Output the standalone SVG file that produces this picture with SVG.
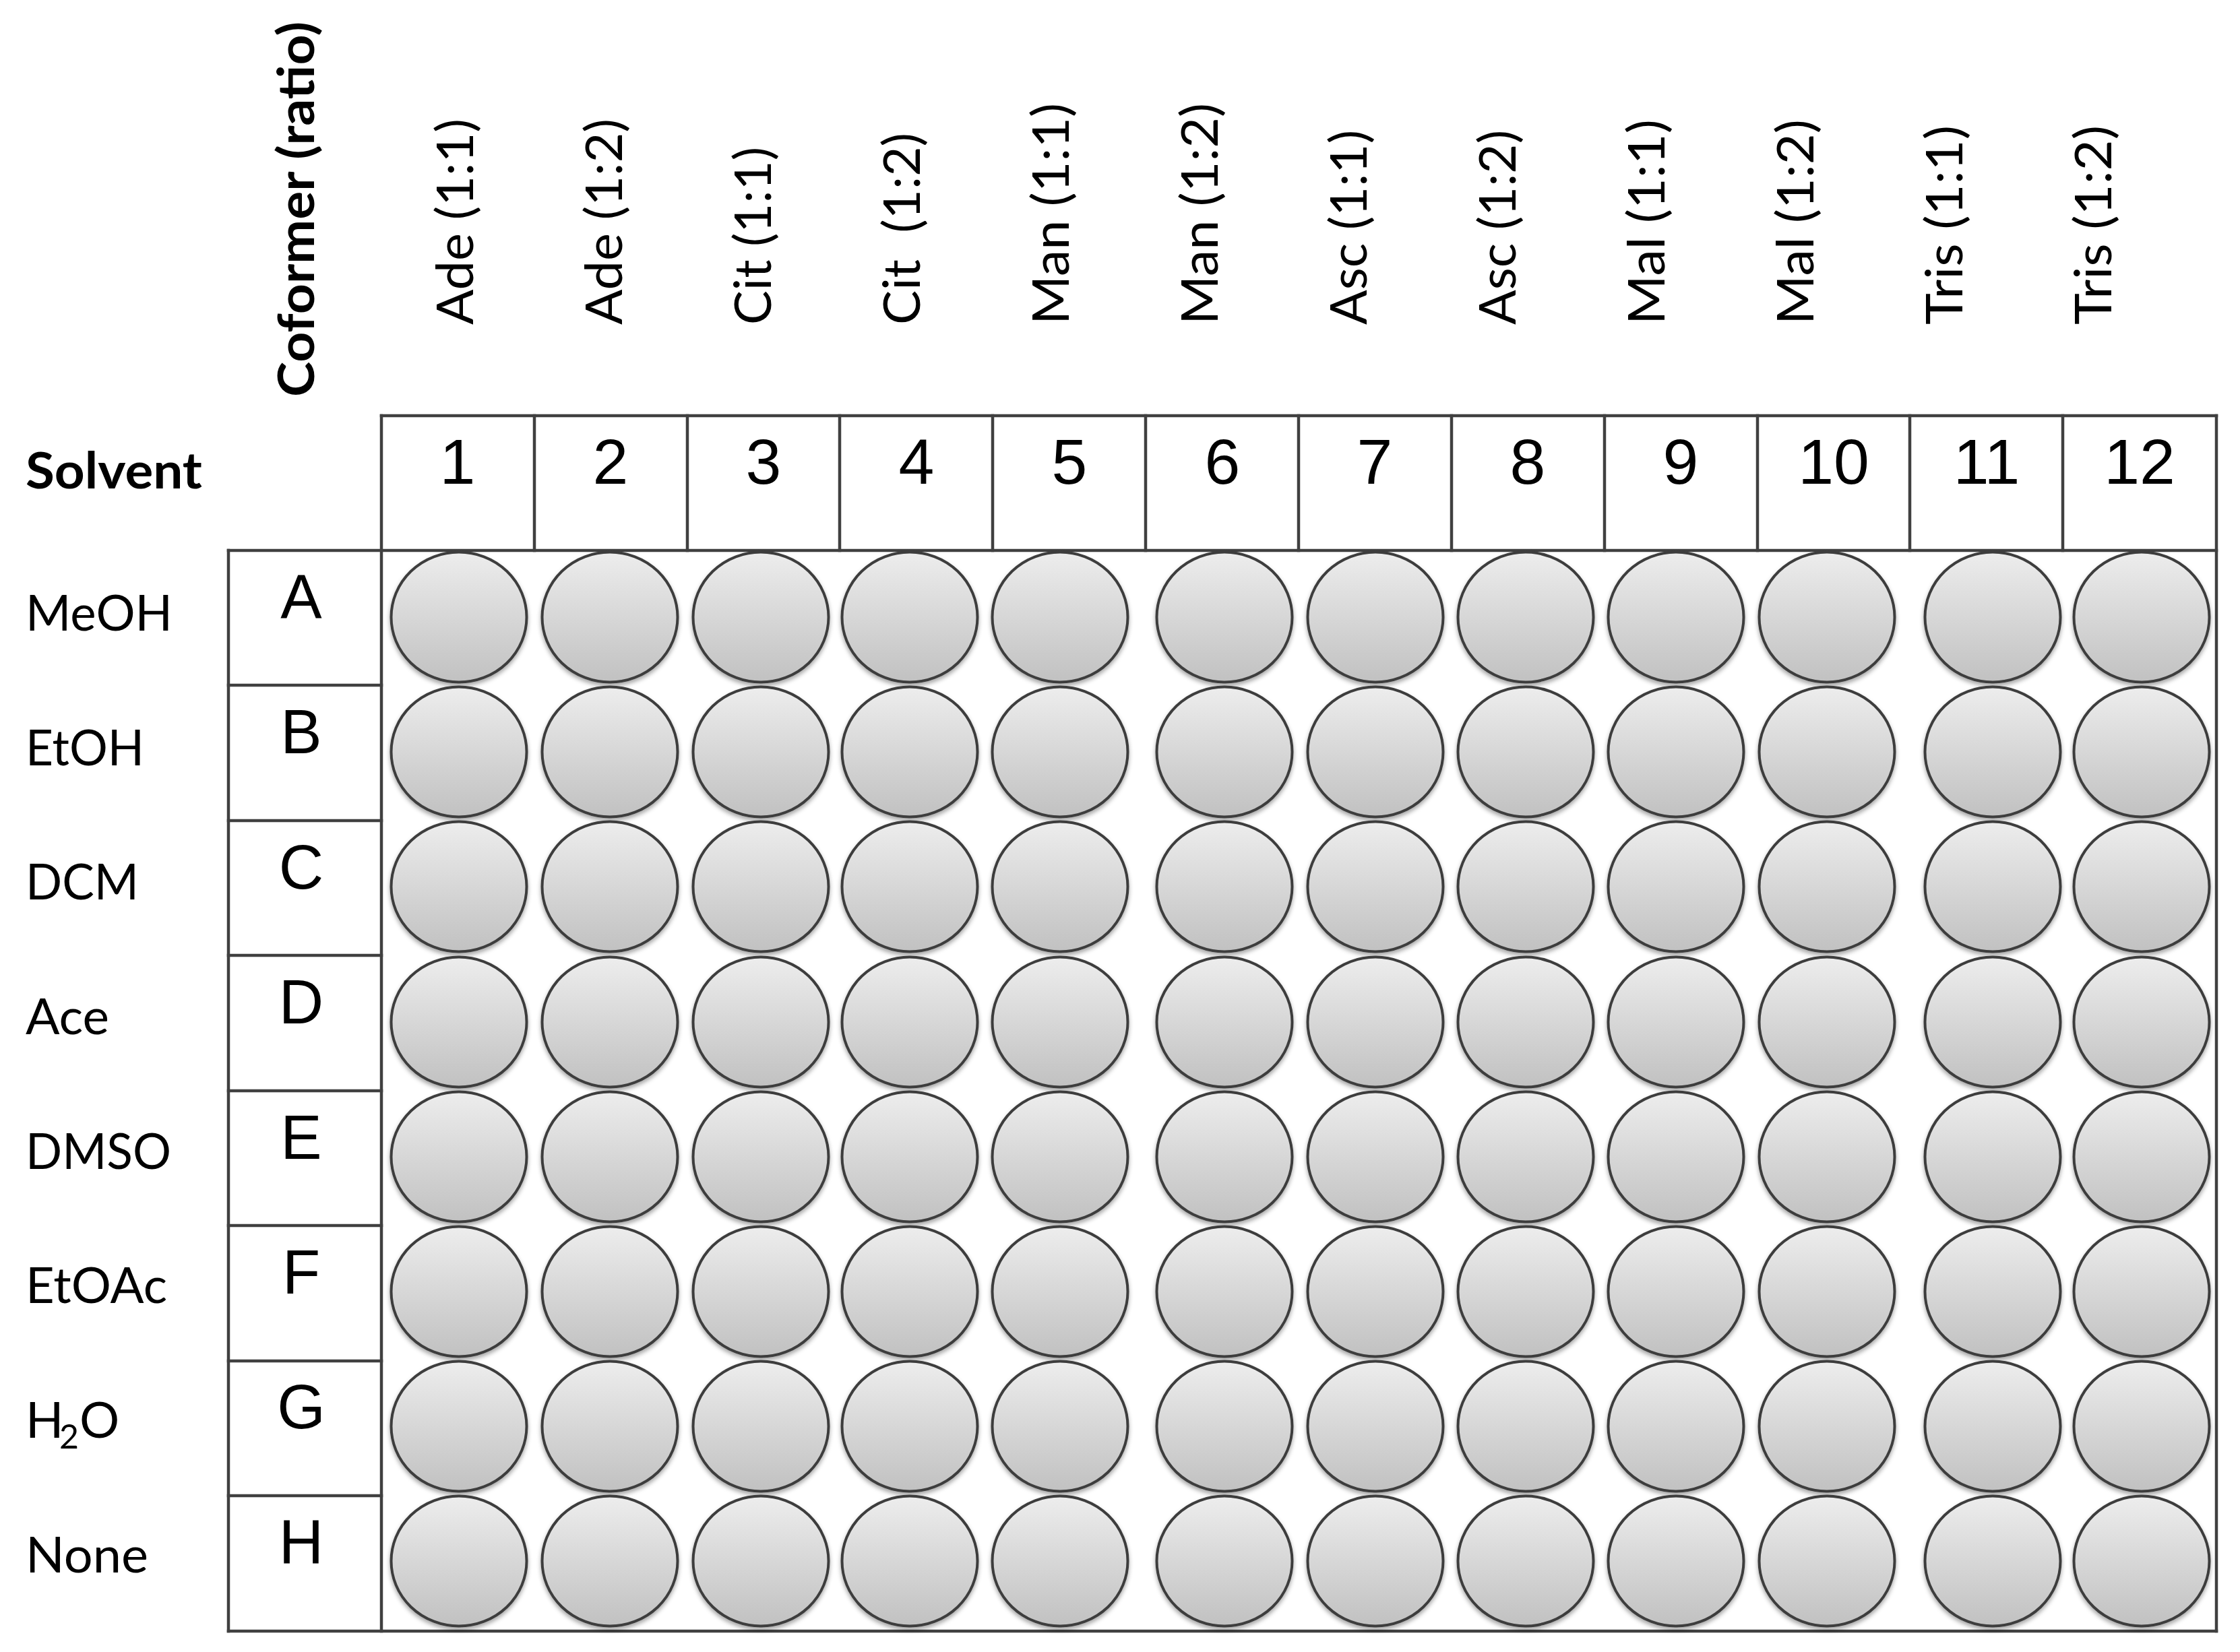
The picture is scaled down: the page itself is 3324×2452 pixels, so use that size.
<svg xmlns="http://www.w3.org/2000/svg" xmlns:xlink="http://www.w3.org/1999/xlink" width="3324" height="2452" viewBox="0 0 3324 2452">
<style>
.t{font-family:Lato,"Open Sans","Liberation Sans",sans-serif;fill:#000}
.b{font-weight:700}
.col{font-size:75px}
.row{font-size:74px}
.num{font-family:"Liberation Sans",Arial,sans-serif;font-size:95px;fill:#000;text-anchor:middle}
.let{font-family:"Liberation Sans",Arial,sans-serif;font-size:92px;fill:#000;text-anchor:middle}
.grid line{stroke:#404040;stroke-width:4.5;stroke-linecap:square}
</style>
<defs>
<linearGradient id="wellFill" x1="0" y1="0" x2="0" y2="1">
<stop offset="0" stop-color="#ededed"/>
<stop offset="1" stop-color="#c1c1c1"/>
</linearGradient>
<filter id="shadow" x="-20%" y="-20%" width="140%" height="150%">
<feDropShadow dx="0" dy="4" stdDeviation="3" flood-color="#000" flood-opacity="0.35"/>
</filter>
<ellipse id="well" cx="0" cy="0" rx="100.5" ry="96.5" fill="url(#wellFill)" stroke="#3d3d3d" stroke-width="4" filter="url(#shadow)"/>
</defs>
<rect x="0" y="0" width="3324" height="2452" fill="#fff"/>

<g id="axis-titles">
<text id="title-coformer" class="t b" font-size="75" transform="translate(466,589) rotate(-90)" textLength="557" lengthAdjust="spacingAndGlyphs">Coformer (ratio)</text>
<text id="title-solvent" class="t b" font-size="75" x="38" y="725" textLength="262" lengthAdjust="spacingAndGlyphs">Solvent</text>
</g>

<g id="coformer-labels" class="t col">
<text transform="translate(702,482) rotate(-90)" textLength="306" lengthAdjust="spacingAndGlyphs">Ade (1:1)</text>
<text transform="translate(923,482) rotate(-90)" textLength="306" lengthAdjust="spacingAndGlyphs">Ade (1:2)</text>
<text transform="translate(1144,482) rotate(-90)" textLength="264" lengthAdjust="spacingAndGlyphs">Cit (1:1)</text>
<text transform="translate(1365,482) rotate(-90)" textLength="285" lengthAdjust="spacingAndGlyphs" xml:space="preserve">Cit  (1:2)</text>
<text transform="translate(1586,482) rotate(-90)" textLength="329" lengthAdjust="spacingAndGlyphs">Man (1:1)</text>
<text transform="translate(1807,482) rotate(-90)" textLength="329" lengthAdjust="spacingAndGlyphs">Man (1:2)</text>
<text transform="translate(2028,482) rotate(-90)" textLength="289" lengthAdjust="spacingAndGlyphs">Asc (1:1)</text>
<text transform="translate(2249,482) rotate(-90)" textLength="289" lengthAdjust="spacingAndGlyphs">Asc (1:2)</text>
<text transform="translate(2470,482) rotate(-90)" textLength="305" lengthAdjust="spacingAndGlyphs">Mal (1:1)</text>
<text transform="translate(2691,482) rotate(-90)" textLength="305" lengthAdjust="spacingAndGlyphs">Mal (1:2)</text>
<text transform="translate(2912,482) rotate(-90)" textLength="296" lengthAdjust="spacingAndGlyphs">Tris (1:1)</text>
<text transform="translate(3133,482) rotate(-90)" textLength="296" lengthAdjust="spacingAndGlyphs">Tris (1:2)</text>
</g>

<g id="solvent-labels" class="t row">
<text x="38" y="936" textLength="218" lengthAdjust="spacingAndGlyphs">MeOH</text>
<text x="38" y="1136" textLength="176" lengthAdjust="spacingAndGlyphs">EtOH</text>
<text x="38" y="1335" textLength="168" lengthAdjust="spacingAndGlyphs">DCM</text>
<text x="38" y="1535" textLength="124" lengthAdjust="spacingAndGlyphs">Ace</text>
<text x="38" y="1735" textLength="216" lengthAdjust="spacingAndGlyphs">DMSO</text>
<text x="38" y="1934" textLength="210" lengthAdjust="spacingAndGlyphs">EtOAc</text>
<text x="38" y="2134"><tspan x="38">H</tspan><tspan x="88" dy="16" font-size="50">2</tspan><tspan x="118" dy="-16">O</tspan></text>
<text x="38" y="2334" textLength="182" lengthAdjust="spacingAndGlyphs">None</text>
</g>

<g id="grid" class="grid">
<line x1="566" y1="617" x2="3289" y2="617"/>
<line x1="339" y1="817" x2="3289" y2="817"/>
<line x1="339" y1="2421" x2="3289" y2="2421"/>
<line x1="566" y1="617" x2="566" y2="2421"/>
<line x1="3289" y1="617" x2="3289" y2="2421"/>
<line x1="339" y1="817" x2="339" y2="2421"/>
<line x1="339" y1="1017" x2="566" y2="1017"/>
<line x1="339" y1="1218" x2="566" y2="1218"/>
<line x1="339" y1="1418" x2="566" y2="1418"/>
<line x1="339" y1="1619" x2="566" y2="1619"/>
<line x1="339" y1="1819" x2="566" y2="1819"/>
<line x1="339" y1="2020" x2="566" y2="2020"/>
<line x1="339" y1="2220" x2="566" y2="2220"/>
<line x1="793" y1="617" x2="793" y2="817"/>
<line x1="1020" y1="617" x2="1020" y2="817"/>
<line x1="1246" y1="617" x2="1246" y2="817"/>
<line x1="1473" y1="617" x2="1473" y2="817"/>
<line x1="1700" y1="617" x2="1700" y2="817"/>
<line x1="1927" y1="617" x2="1927" y2="817"/>
<line x1="2154" y1="617" x2="2154" y2="817"/>
<line x1="2381" y1="617" x2="2381" y2="817"/>
<line x1="2608" y1="617" x2="2608" y2="817"/>
<line x1="2834" y1="617" x2="2834" y2="817"/>
<line x1="3061" y1="617" x2="3061" y2="817"/>
</g>

<g id="column-numbers">
<text class="num" x="679" y="718">1</text>
<text class="num" x="906" y="718">2</text>
<text class="num" x="1133" y="718">3</text>
<text class="num" x="1360" y="718">4</text>
<text class="num" x="1587" y="718">5</text>
<text class="num" x="1814" y="718">6</text>
<text class="num" x="2040" y="718">7</text>
<text class="num" x="2267" y="718">8</text>
<text class="num" x="2494" y="718">9</text>
<text class="num" x="2721" y="718">10</text>
<text class="num" x="2948" y="718">11</text>
<text class="num" x="3175" y="718">12</text>
</g>

<g id="row-letters">
<text class="let" x="447" y="918">A</text>
<text class="let" x="447" y="1118">B</text>
<text class="let" x="447" y="1319">C</text>
<text class="let" x="447" y="1519">D</text>
<text class="let" x="447" y="1720">E</text>
<text class="let" x="447" y="1920">F</text>
<text class="let" x="447" y="2120">G</text>
<text class="let" x="447" y="2321">H</text>
</g>

<g id="wells">
<g id="row-A">
<use id="A1" xlink:href="#well" x="681" y="916"/><use id="A2" xlink:href="#well" x="905" y="916"/><use id="A3" xlink:href="#well" x="1129" y="916"/><use id="A4" xlink:href="#well" x="1350" y="916"/><use id="A5" xlink:href="#well" x="1573" y="916"/><use id="A6" xlink:href="#well" x="1817" y="916"/><use id="A7" xlink:href="#well" x="2041" y="916"/><use id="A8" xlink:href="#well" x="2264" y="916"/><use id="A9" xlink:href="#well" x="2487" y="916"/><use id="A10" xlink:href="#well" x="2711" y="916"/><use id="A11" xlink:href="#well" x="2957" y="916"/><use id="A12" xlink:href="#well" x="3178" y="916"/>
</g>
<g id="row-B">
<use id="B1" xlink:href="#well" x="681" y="1116"/><use id="B2" xlink:href="#well" x="905" y="1116"/><use id="B3" xlink:href="#well" x="1129" y="1116"/><use id="B4" xlink:href="#well" x="1350" y="1116"/><use id="B5" xlink:href="#well" x="1573" y="1116"/><use id="B6" xlink:href="#well" x="1817" y="1116"/><use id="B7" xlink:href="#well" x="2041" y="1116"/><use id="B8" xlink:href="#well" x="2264" y="1116"/><use id="B9" xlink:href="#well" x="2487" y="1116"/><use id="B10" xlink:href="#well" x="2711" y="1116"/><use id="B11" xlink:href="#well" x="2957" y="1116"/><use id="B12" xlink:href="#well" x="3178" y="1116"/>
</g>
<g id="row-C">
<use id="C1" xlink:href="#well" x="681" y="1316"/><use id="C2" xlink:href="#well" x="905" y="1316"/><use id="C3" xlink:href="#well" x="1129" y="1316"/><use id="C4" xlink:href="#well" x="1350" y="1316"/><use id="C5" xlink:href="#well" x="1573" y="1316"/><use id="C6" xlink:href="#well" x="1817" y="1316"/><use id="C7" xlink:href="#well" x="2041" y="1316"/><use id="C8" xlink:href="#well" x="2264" y="1316"/><use id="C9" xlink:href="#well" x="2487" y="1316"/><use id="C10" xlink:href="#well" x="2711" y="1316"/><use id="C11" xlink:href="#well" x="2957" y="1316"/><use id="C12" xlink:href="#well" x="3178" y="1316"/>
</g>
<g id="row-D">
<use id="D1" xlink:href="#well" x="681" y="1517"/><use id="D2" xlink:href="#well" x="905" y="1517"/><use id="D3" xlink:href="#well" x="1129" y="1517"/><use id="D4" xlink:href="#well" x="1350" y="1517"/><use id="D5" xlink:href="#well" x="1573" y="1517"/><use id="D6" xlink:href="#well" x="1817" y="1517"/><use id="D7" xlink:href="#well" x="2041" y="1517"/><use id="D8" xlink:href="#well" x="2264" y="1517"/><use id="D9" xlink:href="#well" x="2487" y="1517"/><use id="D10" xlink:href="#well" x="2711" y="1517"/><use id="D11" xlink:href="#well" x="2957" y="1517"/><use id="D12" xlink:href="#well" x="3178" y="1517"/>
</g>
<g id="row-E">
<use id="E1" xlink:href="#well" x="681" y="1717"/><use id="E2" xlink:href="#well" x="905" y="1717"/><use id="E3" xlink:href="#well" x="1129" y="1717"/><use id="E4" xlink:href="#well" x="1350" y="1717"/><use id="E5" xlink:href="#well" x="1573" y="1717"/><use id="E6" xlink:href="#well" x="1817" y="1717"/><use id="E7" xlink:href="#well" x="2041" y="1717"/><use id="E8" xlink:href="#well" x="2264" y="1717"/><use id="E9" xlink:href="#well" x="2487" y="1717"/><use id="E10" xlink:href="#well" x="2711" y="1717"/><use id="E11" xlink:href="#well" x="2957" y="1717"/><use id="E12" xlink:href="#well" x="3178" y="1717"/>
</g>
<g id="row-F">
<use id="F1" xlink:href="#well" x="681" y="1917"/><use id="F2" xlink:href="#well" x="905" y="1917"/><use id="F3" xlink:href="#well" x="1129" y="1917"/><use id="F4" xlink:href="#well" x="1350" y="1917"/><use id="F5" xlink:href="#well" x="1573" y="1917"/><use id="F6" xlink:href="#well" x="1817" y="1917"/><use id="F7" xlink:href="#well" x="2041" y="1917"/><use id="F8" xlink:href="#well" x="2264" y="1917"/><use id="F9" xlink:href="#well" x="2487" y="1917"/><use id="F10" xlink:href="#well" x="2711" y="1917"/><use id="F11" xlink:href="#well" x="2957" y="1917"/><use id="F12" xlink:href="#well" x="3178" y="1917"/>
</g>
<g id="row-G">
<use id="G1" xlink:href="#well" x="681" y="2117"/><use id="G2" xlink:href="#well" x="905" y="2117"/><use id="G3" xlink:href="#well" x="1129" y="2117"/><use id="G4" xlink:href="#well" x="1350" y="2117"/><use id="G5" xlink:href="#well" x="1573" y="2117"/><use id="G6" xlink:href="#well" x="1817" y="2117"/><use id="G7" xlink:href="#well" x="2041" y="2117"/><use id="G8" xlink:href="#well" x="2264" y="2117"/><use id="G9" xlink:href="#well" x="2487" y="2117"/><use id="G10" xlink:href="#well" x="2711" y="2117"/><use id="G11" xlink:href="#well" x="2957" y="2117"/><use id="G12" xlink:href="#well" x="3178" y="2117"/>
</g>
<g id="row-H">
<use id="H1" xlink:href="#well" x="681" y="2317"/><use id="H2" xlink:href="#well" x="905" y="2317"/><use id="H3" xlink:href="#well" x="1129" y="2317"/><use id="H4" xlink:href="#well" x="1350" y="2317"/><use id="H5" xlink:href="#well" x="1573" y="2317"/><use id="H6" xlink:href="#well" x="1817" y="2317"/><use id="H7" xlink:href="#well" x="2041" y="2317"/><use id="H8" xlink:href="#well" x="2264" y="2317"/><use id="H9" xlink:href="#well" x="2487" y="2317"/><use id="H10" xlink:href="#well" x="2711" y="2317"/><use id="H11" xlink:href="#well" x="2957" y="2317"/><use id="H12" xlink:href="#well" x="3178" y="2317"/>
</g>
</g>

<g id="connectors"/>
</svg>
